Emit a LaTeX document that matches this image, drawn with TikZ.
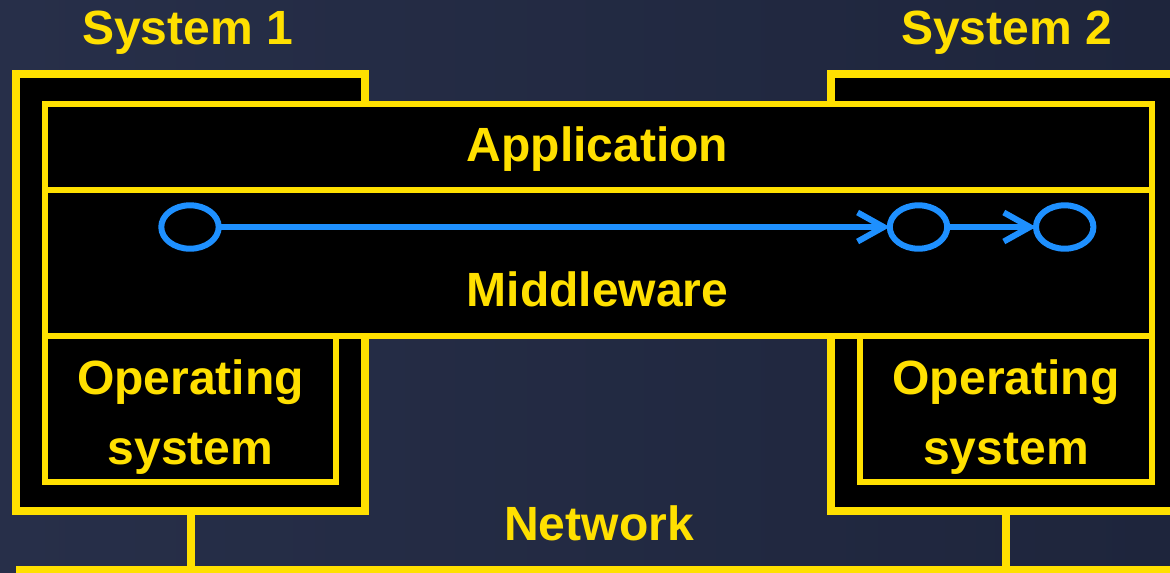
\documentclass[tikz,border=0pt]{standalone}
\usepackage{fontspec}
\setmainfont{Liberation Sans}
\usetikzlibrary{arrows.meta,shapes.geometric}
\definecolor{bgleft}{RGB}{39,47,73}
\definecolor{bgright}{RGB}{30,37,60}
\definecolor{gold}{RGB}{255,224,0}
\definecolor{skyblue}{RGB}{30,144,255}
\tikzset{
  px/.style={x=0.01cm,y=-0.01cm},
  sysbox/.style={draw=gold,fill=black,line width=0.08cm,inner sep=0pt,outer sep=0pt},
  layer/.style={draw=gold,fill=black,line width=0.06cm,inner sep=0pt,outer sep=0pt},
  wire/.style={draw=gold,line width=0.08cm},
  lbl/.style={text=gold,font=\fontsize{13.66pt}{19.92pt}\selectfont\bfseries,inner sep=0pt,align=center},
  obj/.style={ellipse,draw=skyblue,line width=0.06cm,minimum width=0.574cm,minimum height=0.434cm,inner sep=0pt,outer sep=0pt},
  msg/.style={draw=skyblue,line width=0.06cm,-{Straight Barb[length=0.26cm,width=0.29cm]}}
}
\begin{document}
\begin{tikzpicture}[px]
  % background
  \shade[left color=bgleft,right color=bgright] (0,0) rectangle (1170,572);
  \useasboundingbox (0,0) rectangle (1170,572);

  % network bus
  \coordinate (netL) at (16,569.5);
  \coordinate (netR) at (1190,569.5);
  \coordinate (tap1) at (191,569.5);
  \coordinate (tap2) at (1006,569.5);
  \draw[wire] (netL) -- (netR);

  % the two machines
  \node[sysbox,minimum width=3.49cm,minimum height=4.365cm] (sys1) at (190.5,292.75) {};
  \node[sysbox,minimum width=3.45cm,minimum height=4.365cm] (sys2) at (1003.5,292.75) {};
  \draw[wire] (tap1 |- sys1.south) -- (tap1);
  \draw[wire] (tap2 |- sys2.south) -- (tap2);

  % shared layers
  \node[layer,minimum width=11.065cm,minimum height=0.868cm] (app) at (598.25,147.1) {};
  \node[layer,minimum width=11.065cm,minimum height=1.455cm] (mid) at (598.25,263.25) {};

  % local operating systems
  \node[layer,minimum width=2.91cm,minimum height=1.46cm] (os1) at (190.5,409) {};
  \node[layer,minimum width=2.915cm,minimum height=1.46cm] (os2) at (1006.25,409) {};

  % labels
  \node[lbl,anchor=base] (t1) at (187.5,44.5) {System 1};
  \node[lbl,anchor=base] (t2) at (1006.5,44.5) {System 2};
  \node[lbl,anchor=base] (tapp) at (597.5,161.7) {Application};
  \node[lbl,anchor=base] (tmid) at (597.5,306.7) {Middleware};
  \node[lbl,anchor=base] (tnet) at (599,540) {Network};
  \node[lbl] (tos1) at (190.5,417.5) {Operating\\system};
  \node[lbl] (tos2) at (1006,417.5) {Operating\\system};

  % distributed objects and invocations
  \node[obj] (o1) at (190,227) {};
  \node[obj] (o2) at (918.5,227) {};
  \node[obj] (o3) at (1064.7,227) {};
  \draw[msg] (o1.east) -- (o2.west);
  \draw[msg] (o2.east) -- (o3.west);
\end{tikzpicture}
\end{document}
